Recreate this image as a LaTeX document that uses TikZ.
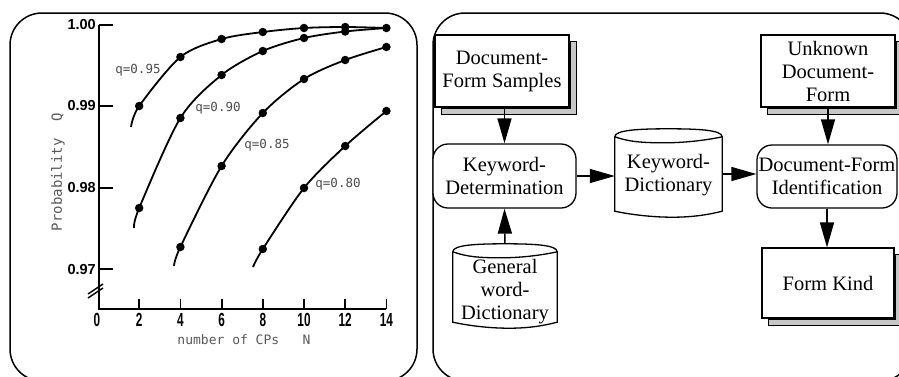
\documentclass[tikz,border=0pt]{standalone}
\usepackage{graphicx}
\usepackage{fontspec}
\setmainfont{Liberation Serif}
\newfontfamily\plotmono{DejaVu Sans Mono}
\newfontfamily\plotsans{Liberation Sans}
\usetikzlibrary{arrows.meta,calc}

\tikzset{
  frame/.style={draw, line width=1.5pt, rounded corners=32pt},
  axisline/.style={line width=1.8pt},
  curve/.style={line width=1.8pt},
  datadot/.style={circle, fill=black, inner sep=0pt, minimum size=8.5pt},
  ylab/.style={font=\plotsans\bfseries\fontsize{14.5}{14.5}\selectfont, anchor=east, inner sep=0pt},
  xlab/.style={font=\plotsans\bfseries\fontsize{19}{19}\selectfont, inner sep=0pt},
  qlab/.style={font=\plotmono\fontsize{12.5}{12.5}\selectfont, text=black!70, inner sep=0pt},
  axlab/.style={font=\plotmono\fontsize{13}{13}\selectfont, text=black!65, inner sep=0pt},
  boxtxt/.style={font=\fontsize{20.5}{23}\selectfont, align=center, inner sep=0pt},
  shadowbox/.style={boxtxt, draw, fill=white, line width=1.2pt,
    minimum width=134pt, minimum height=72pt},
  shadowfill/.style={fill=black!22, draw=black, line width=0.6pt},
  procbox/.style={boxtxt, draw, fill=white, line width=1.3pt, rounded corners=15pt,
    minimum width=143pt, minimum height=64pt},
  cylnode/.style={boxtxt, minimum width=107pt, minimum height=74pt},
  flow/.style={-{Triangle[length=25pt,width=14pt]}, line width=1.5pt},
}

\newcommand\wavycyl[1]{%
  \draw[line width=1.3pt, fill=white]
    (#1.north west) .. controls +(0,-7) and +(-28,0) .. ($(#1.north)+(0,-8)$)
    .. controls +(28,0) and +(0,-7) .. (#1.north east)
    -- (#1.south east)
    .. controls +(-12,3) and +(22,0) .. ($(#1.south)+(4,6)$)
    .. controls +(-22,0) and +(14,3) .. (#1.south west) -- cycle;
  \draw[line width=1.3pt]
    (#1.north west) .. controls +(14,5) and +(-22,0) .. ($(#1.north)+(-4,6)$)
    .. controls +(22,0) and +(-14,3) .. (#1.north east);
}
\newcommand\boxshadow[1]{%
  \draw[shadowfill] ($(#1.north east)+(0.6,7)$) -- ($(#1.north east)+(7,7)$)
    -- ($(#1.south east)+(7,7)$) -- ($(#1.south west)+(7,7)$)
    -- ($(#1.south west)+(7,0.6)$) -- ($(#1.south east)+(0.6,0.6)$) -- cycle;}

\begin{document}
\begin{tikzpicture}[x=1pt, y=-1pt]
\useasboundingbox (0,0) rectangle (899,376);
\clip (0,0) rectangle (899,376);

% ---------- left panel: plot ----------
\draw[frame] (10,13) rectangle (417,381);

\draw[axisline] (99,25) -- (99,309) -- (386.4,309);
\foreach \yy in {25,106,188,269} \draw[axisline] (99,\yy) -- (113,\yy);
\foreach \xx in {139.2,180.4,221.6,262.8,304,345.2,386.4} \draw[axisline] (\xx,309) -- (\xx,299);
\draw[line width=1.5pt] (88,298) -- (103,288);
\draw[line width=1.5pt] (88,294) -- (103,284);

\node[ylab] (y100) at (96,25) {1.00};
\node[ylab] (y099) at (96,106) {0.99};
\node[ylab] (y098) at (96,188) {0.98};
\node[ylab] (y097) at (96,269) {0.97};

\foreach \lab/\xx in {0/97,2/139.2,4/180.4,6/221.6,8/262.8,10/304,12/345.2,14/386.4}
  \node[xlab] (x\lab) at (\xx,320) {\scalebox{0.62}[1]{\lab}};

\node[axlab] (xtitle) at (244,340) {number of CPs~~~N};
\node[axlab, rotate=90] (ytitle) at (58,172) {\fontsize{14}{14}\selectfont Probability~~Q};

\draw[curve] plot[smooth] coordinates {(131,127) (139.2,106) (180.4,57) (221.6,39) (262.8,32) (304,28) (345.2,27) (386.4,28)};
\draw[curve] plot[smooth] coordinates {(134,228) (139.2,208) (180.4,118) (221.6,75) (262.8,51) (304,38) (345.2,31.5) (386.4,28)};
\draw[curve] plot[smooth] coordinates {(174,266) (180.4,247) (221.6,166) (262.8,113) (304,79) (345.2,60) (386.4,47)};
\draw[curve] plot[smooth] coordinates {(253,267) (262.8,249) (304,188) (345.2,146) (386.4,111)};

\foreach \p [count=\i] in {(139.2,106),(180.4,57),(221.6,39),(262.8,32),(304,28),(345.2,27),(386.4,28),
  (139.2,208),(180.4,118),(221.6,75),(262.8,51),(304,38),(345.2,31.5),
  (180.4,247),(221.6,166),(262.8,113),(304,79),(345.2,60),(386.4,47),
  (262.8,249),(304,188),(345.2,146),(386.4,111)}
  \node[datadot] (d\i) at \p {};

\node[qlab] (q95) at (138,70) {q=0.95};
\node[qlab] (q90) at (218,108) {q=0.90};
\node[qlab] (q85) at (267,145) {q=0.85};
\node[qlab] (q80) at (338,184) {q=0.80};

% ---------- right panel: flow ----------
\draw[frame] (433,13) rectangle (912,381);

\node[shadowbox] (dfs) at (502,71) {Document-\\Form Samples};
\node[shadowbox] (udf) at (828,71) {Unknown\\Document-\\Form};
\node[shadowbox, minimum width=132pt, minimum height=70pt] (fk) at (828,283) {Form Kind};
\boxshadow{dfs}
\boxshadow{udf}
\boxshadow{fk}

\node[procbox] (kdet) at (504.5,176) {Keyword-\\Determination};
\node[procbox, minimum width=140pt, minimum height=63pt] (dfi) at (827,176.5) {Document-Form\\Identification};

\node[cylnode] (kdict) at (668.5,174) {};
\wavycyl{kdict}
\node[boxtxt] (kdicttext) at ([yshift=-1pt]kdict.center) {Keyword-\\Dictionary};

\node[cylnode, minimum width=104pt, minimum height=70pt] (gwd) at (505,287) {};
\wavycyl{gwd}
\node[boxtxt] (gwdtext) at ([yshift=-5pt]gwd.center) {General\\word-\\Dictionary};

\draw[flow] (dfs.south -| kdet.north) -- (kdet.north);
\draw[flow] ([yshift=8pt]gwd.north) -- (kdet.south);
\draw[flow] (kdet.east) -- (kdet.east -| kdict.west);
\draw[flow] (kdict.east) -- (kdict.east -| dfi.west);
\draw[flow] (udf.south) -- (udf.south |- dfi.north);
\draw[flow] (dfi.south) -- (dfi.south |- fk.north);
\end{tikzpicture}
\end{document}
